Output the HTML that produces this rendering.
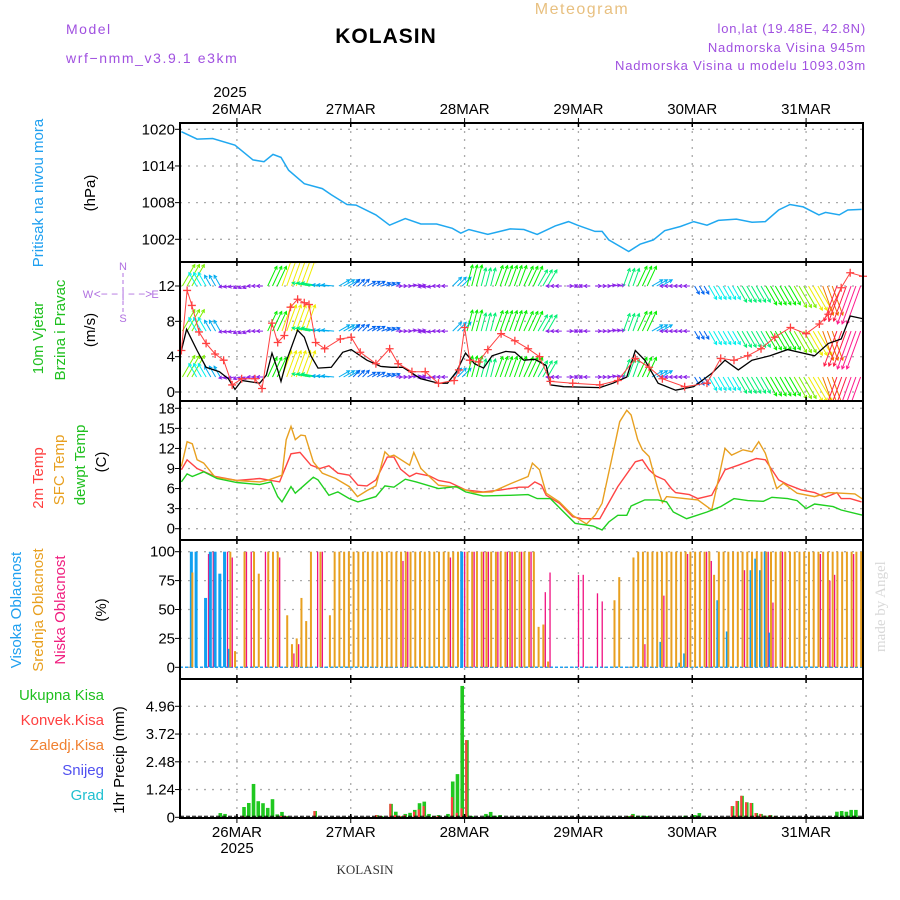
<!DOCTYPE html>
<html><head><meta charset="utf-8"><style>
html,body{margin:0;padding:0;background:#fff;}
svg{display:block;font-family:"Liberation Sans",sans-serif;}
</style></head><body>
<svg id="chart" width="900" height="900" viewBox="0 0 900 900" xmlns="http://www.w3.org/2000/svg">
<rect x="0" y="0" width="900" height="900" fill="#fff"/>
<text x="66" y="34" font-size="14" fill="#a050e0" letter-spacing="1.5">Model</text>
<text x="66" y="63" font-size="14" fill="#a050e0" letter-spacing="1.6">wrf−nmm_v3.9.1  e3km</text>
<text x="386" y="43" font-size="21" font-weight="bold" text-anchor="middle" fill="#000" font-family="Liberation Sans, sans-serif" letter-spacing="1">KOLASIN</text>
<text x="582" y="14" font-size="16" text-anchor="middle" fill="#e8c080" letter-spacing="1.5">Meteogram</text>
<text x="866" y="33" font-size="13" text-anchor="end" fill="#a050e0" letter-spacing="0.8">lon,lat (19.48E, 42.8N)</text>
<text x="866" y="52" font-size="13" text-anchor="end" fill="#a050e0" letter-spacing="0.8">Nadmorska Visina 945m</text>
<text x="866" y="70" font-size="13" text-anchor="end" fill="#a050e0" letter-spacing="0.8">Nadmorska Visina u modelu 1093.03m</text>
<text x="230" y="97" font-size="15" text-anchor="middle" fill="#000">2025</text>
<text x="237" y="853" font-size="15" text-anchor="middle" fill="#000">2025</text>
<text x="365" y="874" font-size="13" text-anchor="middle" fill="#333" font-family="Liberation Serif, serif">KOLASIN</text>
<text transform="translate(885,652) rotate(-90)" font-size="15" fill="#d8d8d8" font-family="Liberation Serif, serif">made by Angel</text>

<text transform="translate(43,193) rotate(-90)" font-size="15" text-anchor="middle" fill="#20a0f0">Pritisak na nivou mora</text>
<text transform="translate(95,193) rotate(-90)" font-size="15" text-anchor="middle" fill="#000">(hPa)</text>
<text transform="translate(43,338) rotate(-90)" font-size="15" text-anchor="middle" fill="#20c020">10m Vjetar</text>
<text transform="translate(65,330) rotate(-90)" font-size="15" text-anchor="middle" fill="#20c020">Brzina i Pravac</text>
<text transform="translate(95,330) rotate(-90)" font-size="15" text-anchor="middle" fill="#000">(m/s)</text>
<g fill="#b070e0" font-size="11" text-anchor="middle">
<text x="123" y="270">N</text><text x="123" y="322">S</text><text x="88" y="298">W</text><text x="155" y="298">E</text>
<text x="123" y="298" font-size="12">&lt;− − | − −&gt;</text>
<line x1="123" y1="273" x2="123" y2="312" stroke="#b070e0" stroke-dasharray="4 3"/>
</g>
<text transform="translate(43,478) rotate(-90)" font-size="15" text-anchor="middle" fill="#ff4040">2m Temp</text>
<text transform="translate(64,470) rotate(-90)" font-size="15" text-anchor="middle" fill="#e8a020">SFC Temp</text>
<text transform="translate(85,465) rotate(-90)" font-size="15" text-anchor="middle" fill="#20c020">dewpt Temp</text>
<text transform="translate(106,462) rotate(-90)" font-size="15" text-anchor="middle" fill="#000">(C)</text>
<text transform="translate(21,610) rotate(-90)" font-size="15" text-anchor="middle" fill="#20a0f0">Visoka Oblacnost</text>
<text transform="translate(43,610) rotate(-90)" font-size="15" text-anchor="middle" fill="#e8a020">Srednja Oblacnost</text>
<text transform="translate(65,610) rotate(-90)" font-size="15" text-anchor="middle" fill="#f02080">Niska Oblacnost</text>
<text transform="translate(106,610) rotate(-90)" font-size="15" text-anchor="middle" fill="#000">(%)</text>
<g font-size="15" text-anchor="end">
<text x="104" y="700" fill="#20c020">Ukupna Kisa</text>
<text x="104" y="725" fill="#ff4040">Konvek.Kisa</text>
<text x="104" y="750" fill="#f08030">Zaledj.Kisa</text>
<text x="104" y="775" fill="#5050f0">Snijeg</text>
<text x="104" y="800" fill="#20c0d0">Grad</text>
</g>
<text transform="translate(124,760) rotate(-90)" font-size="15" text-anchor="middle" fill="#000">1hr Precip (mm)</text>
<g id="plot"></g>
</svg>
<script>
// ---- data ----
const dayLabels = ["26MAR","27MAR","28MAR","29MAR","30MAR","31MAR"];
const dayHours = [12,36,60,84,108,132];
const presTicks = [1002,1008,1014,1020];
const presHours = [0.3,3.6,6.9,11.6,15.4,17.7,19.6,21.3,22.9,26.2,30,31.9,35.2,37.1,41.3,44.2,47.5,50.8,54.1,57.4,59.2,60.9,64.9,69.6,72.5,75.3,79.1,81.9,83.8,87.5,89,90.4,94.6,97,99.8,102.2,105.5,108.3,111.1,113.5,117.3,120.6,123.4,126.2,128.6,131.4,134.7,136.1,139,140.8,143.7];
const presVals = [1019.6,1018.4,1018.5,1017.4,1015.0,1014.7,1015.9,1015.4,1013.3,1011.1,1010.3,1009.3,1007.7,1007.6,1006.0,1004.3,1005.4,1004.5,1004.5,1003.8,1003.0,1003.6,1002.8,1003.7,1003.6,1002.8,1004.2,1004.9,1004.3,1003.3,1003.3,1001.9,1000.0,1001.2,1001.9,1003.4,1004.1,1004.9,1004.3,1005.1,1005.3,1004.8,1004.9,1006.8,1007.7,1007.3,1006.0,1006.4,1006.0,1006.8,1006.9];

const windTicks = [0,4,8,12];
const speedHours = [0.3,1.4,3.6,5.5,8.3,10.2,11.6,13,16.8,18.2,19.4,20.6,21.3,22.5,24.8,26.2,27.6,29.1,31.9,34.3,36.1,39.4,42.3,44.6,47,50.8,54.5,56.4,58.3,60.2,62.1,64,65.8,68.7,70.6,72.5,74.8,77.2,78.1,80.9,88.5,91.3,94.2,96,98,100.8,104.5,108.3,112.1,114.9,117.7,120.6,124.4,128.1,133.8,136.7,139.4,141.3,144];
const speedVals = [4.7,7.1,4.7,2.8,2.3,1.5,0.3,1.3,1.0,1.9,4.4,2.5,1.2,3.6,7.0,6.2,4.1,2.7,2.8,4.5,4.8,3.6,2.9,2.8,2.8,1.5,1.0,1.0,2.3,4.4,3.2,2.7,4.1,4.6,4.5,3.6,3.7,3.0,0.8,0.6,0.5,1.0,1.7,4.7,3.6,1.0,0.2,0.6,2.1,3.6,2.5,3.6,4.1,4.8,4.1,5.5,6.0,8.6,8.3];
const gustHours = [0.3,1.5,2.5,4,5.5,7.4,9.2,11,13,15.8,17.3,19.4,20.6,22,23.3,24.8,26.2,27.2,28.6,30.5,33.8,36.1,38,41.3,44.2,46,48.9,51.7,54.5,57.8,58.8,60,61.1,63,64.9,67.7,70.6,73.4,75.8,78.1,82.8,88.5,92.3,96,98.9,101.7,106.4,111.1,114,116.8,119.7,122.5,125.4,128.7,132,134.8,136.7,139.4,141.3,144];
const gustVals = [4.7,11.5,9.8,6.8,5.5,4.3,3.6,0.8,1.5,1.5,0.4,7.8,5.6,6.4,9.6,10.5,10.1,9.9,5.6,4.9,6.0,6.2,4.5,3.2,4.9,3.2,2.3,2.3,1.0,1.3,2.5,7.3,3.6,3.4,4.8,6.6,5.8,4.9,4.0,1.2,1.0,0.8,1.3,3.8,2.8,1.5,0.6,1.0,3.8,3.6,4.1,4.9,6.2,7.3,6.6,7.7,8.8,11.8,13.5,13.1];
const windSpd = [8,5,4,2,2,2,7,9,9,6,4,4,3,3,3,2,2,2,2,4,7,6,7,7,7,6,2,2,2,2,2,6,7,4,2,2,3,5,5,6,6,7,7,8,9,10,12,13];
const windDir = [30,330,330,260,250,270,25,20,20,280,275,60,45,60,70,90,80,260,270,45,15,15,20,20,25,30,270,90,270,90,80,20,25,60,270,270,150,150,150,150,150,150,150,150,150,160,200,200];
const windRowLevels = [12,6.9,1.7];

const tempTicks = [0,3,6,9,12,15,18];
const t2Hours = [0.3,1.5,3.6,5.5,7.4,12,16.8,21,23.4,25.3,27.6,29.5,31.4,33.3,35.7,37.5,39.4,41.3,43.7,45.1,46.5,48.4,49.8,52.6,54.5,56.9,60.2,63.9,67.7,71.5,73.4,74.8,76.2,77.2,80,82.8,84.7,88.5,92.3,96,97.5,98.9,100.3,102.2,103.6,104.5,107.4,109.2,112.1,114.9,117.7,121.5,123.4,126.2,128.1,131,133.8,136.1,138.5,139.4,141.3,143.7];
const t2Vals = [8.8,10.3,9.0,8.4,7.8,7.2,7.5,7.0,11.2,11.4,9.5,9.0,9.4,8.3,8.0,6.5,6.4,7.3,10.7,10.7,8.9,7.8,8.3,7.9,7.2,6.9,5.8,5.5,5.8,6.2,6.2,7.0,6.5,5.0,3.8,1.8,1.5,1.5,6.3,10.0,10.3,8.8,7.9,7.3,6.0,5.4,5.1,4.5,5.0,8.8,9.5,10.5,10.3,7.3,6.6,5.8,5.4,4.7,5.4,4.5,4.5,4.0];
const sfcHours = [0.3,1.5,2.6,3.6,5,7.4,12,16.8,18.7,21.5,22.4,23.4,24.3,25.5,26.4,28.1,30,32.8,35.7,37.4,39.4,41.3,43.2,44.2,45.1,48.4,49.3,50.8,54.5,58.3,62.1,65.8,69.6,73.4,74.3,75.8,77.2,80,82.8,85.7,87.5,89,91.3,92.7,94.2,95.1,96.5,97.5,98.9,100.8,101.7,102.6,106.4,109.2,112.1,113.5,114.9,116.3,118.7,120.6,122,123.4,125.8,127.2,130.1,133.8,136.7,139.4,142.3,144];
const sfcVals = [9.3,13.0,12.7,10.3,9.8,7.7,7.2,7.0,7.3,8.0,13.3,15.3,13.3,14.0,13.9,10.0,8.3,7.5,6.3,4.8,5.7,6.4,11.5,10.8,11.0,9.5,11.4,9.0,6.5,6.2,5.4,5.5,6.7,7.8,9.8,8.8,5.3,4.0,2.0,0.7,2.0,3.8,11.3,16.0,17.7,17.0,13.3,11.8,10.8,5.8,3.9,4.8,4.5,4.3,2.8,7.3,12.0,11.0,11.8,11.5,13.0,11.3,6.0,6.8,5.3,4.8,5.4,5.3,5.2,4.4];
const dewHours = [0.3,1.5,2.6,5,7.8,12,16.8,19.2,20.6,21.5,23.4,24.3,26.2,28.1,29.1,31.4,33.3,35.7,37.5,41.3,43.2,45.1,47.5,49.8,54.5,58.3,60.2,63.9,69.6,73.4,75.3,78.1,80.9,83.3,87.1,89,90.4,92.3,94.2,95.1,98,100.8,102.6,104,106.8,111.1,114,116.8,119.7,123,124.8,128.1,130.1,132,133.8,137.7,139.4,144];
const dewVals = [7.0,8.2,7.8,8.5,7.5,6.9,6.6,7.0,4.8,4.0,6.3,5.3,6.5,7.7,7.3,5.0,5.5,4.5,4.0,4.8,6.4,6.2,7.4,7.0,6.0,6.3,5.5,4.9,5.0,5.1,4.5,4.5,2.5,0.8,0.4,-0.2,1.0,2.0,2.0,3.4,4.3,4.3,4.0,2.5,1.5,2.5,3.3,4.5,4.2,4.1,4.7,4.5,4.2,3.0,3.7,3.3,2.8,2.0];

const cloudTicks = [0,25,50,75,100];
const cloudHigh = [0,0,100,100,0,60,100,100,81,100,16,0, 0,0,0,0,0,0,0,0,0,0,0,0, 0,0,0,0,0,0,0,0,0,0,0,0, 0,0,0,0,0,0,0,0,0,0,0,0, 0,0,0,0,0,0,0,0,0,0,0,100, 0,0,0,0,0,0,0,0,0,0,0,0, 0,0,0,0,0,0,0,0,0,0,0,0, 0,0,0,0,0,0,0,0,0,0,0,0, 0,0,0,0,0,22,0,0,0,4,12,0, 0,0,0,0,0,58,0,31,0,0,0,0, 84,94,84,100,30,0,0,0,0,0,0,0, 0,0,0,0,0,0,0,0,0,0,0,0];
const cloudMid = [0,0,82,0,0,0,0,0,0,0,100,14, 0,100,0,100,81,0,100,100,100,0,45,20, 25,60,40,100,0,100,0,45,100,100,100,100, 100,100,100,100,100,100,100,100,100,100,100,100, 100,100,100,100,100,100,100,100,100,100,100,0, 100,100,100,100,100,100,100,100,100,100,100,100, 100,100,100,35,37,5,0,0,0,0,0,0, 0,0,0,0,0,0,0,58,78,0,0,95, 100,100,100,100,100,100,100,100,100,100,100,100, 100,100,100,100,80,100,100,100,100,100,100,100, 100,100,100,100,100,100,100,100,100,100,100,100, 100,100,100,100,100,100,100,100,100,100,100,100];
const cloudLow = [0,0,0,0,0,98,100,0,0,100,95,0, 0,100,100,0,0,100,0,0,95,0,0,12, 20,0,0,0,100,100,0,0,0,0,0,0, 0,0,0,0,0,0,0,0,0,0,92,100, 0,0,0,0,0,0,0,0,95,0,0,100, 0,100,0,100,100,0,100,0,100,100,0,100, 0,100,0,0,65,82,0,0,0,0,0,80, 80,0,0,64,57,0,0,0,0,0,0,0, 0,20,0,0,0,62,0,0,0,0,98,0, 0,0,100,92,0,0,0,0,0,0,84,0, 0,0,0,100,56,0,100,0,0,0,0,0, 0,0,98,0,75,80,0,0,0,98,0,100];

const precipTicks = [0,1.24,2.48,3.72,4.96];
const precipHours = [8,9,13,14,15,16,17,18,19,20,21,22,28,41,42,44,45,46,47,48,49,50,51,52,53,54,56,57,58,59,60,61,64,65,66,67,94,95,96,97,98,106,108,109,116,117,118,119,120,121,122,123,124,125,138,139,140,141,142];
const precipTotal = [0.19,0.15,0.46,0.64,1.49,0.72,0.63,0.42,0.81,0.13,0.24,0.06,0.28,0.1,0.06,0.6,0.25,0.06,0.15,0.2,0.33,0.63,0.7,0.15,0.06,0.1,0.15,1.6,1.93,5.87,3.45,0.06,0.15,0.24,0.07,0.1,0.06,0.15,0.07,0.07,0.06,0.07,0.1,0.19,0.5,0.73,0.96,0.67,0.64,0.19,0.15,0.07,0.1,0.03,0.25,0.28,0.25,0.33,0.33];
const precipConv = [0,0,0.04,0,0,0,0,0,0,0.02,0.06,0.03,0.28,0.1,0.06,0.6,0.1,0.06,0.1,0,0.25,0.35,0.5,0,0.03,0.06,0,0.9,0.2,0.4,3.45,0,0,0,0,0,0.03,0.1,0,0,0,0,0,0,0.5,0.73,0.96,0.67,0.64,0.19,0.15,0.07,0.1,0.03,0,0,0,0,0];

// ---- axes ----
const NS = "http://www.w3.org/2000/svg";
const X0 = 180, X1 = 863;
function xh(h){ return X0 + h*(X1-X0)/144; }
function lin(v0,y0,v1,y1){ return v => y0 + (v-v0)*(y1-y0)/(v1-v0); }
const yPres = lin(1020,129.3,1002,239.3);
const yWind = lin(0,392,12,286);
const yTemp = lin(0,528.7,18,408.3);
const yCloud = lin(0,667.3,100,551.7);
const yPrec = lin(0,817.3,4.96,706.3);
const panels = [
  {name:"pressure", top:123, bot:262, ticks:presTicks, y:yPres, fmt:v=>String(v)},
  {name:"wind", top:262, bot:401, ticks:windTicks, y:yWind, fmt:v=>String(v)},
  {name:"temperature", top:401, bot:540, ticks:tempTicks, y:yTemp, fmt:v=>String(v)},
  {name:"cloud", top:540, bot:679, ticks:cloudTicks, y:yCloud, fmt:v=>String(v)},
  {name:"precip", top:679, bot:818, ticks:precipTicks, y:yPrec, fmt:v=>v===0?"0":v.toFixed(2)}
];
const plot = document.getElementById("plot");
function el(tag, attrs, parent){
  const e = document.createElementNS(NS, tag);
  for (const k in attrs) e.setAttribute(k, attrs[k]);
  (parent||plot).appendChild(e);
  return e;
}
function colorForSpeed(s){
  if (s<=2) return "#8a20e8";
  const hue = s<=3?215: s<=5?215-(s-3)*18: s<=7?179-(s-5)*30: s<=10?119-(s-7)*30: Math.max(-30, 29-(s-10)*20);
  return "hsl("+((hue+360)%360)+",100%,"+(s>=12?"55%":"47%")+")";
}

panels.forEach(p=>{
  const g = el("g",{});
  
  
  dayHours.forEach(h=>{
    el("line",{x1:xh(h),x2:xh(h),y1:p.top,y2:p.bot,stroke:"#aaa","stroke-width":1.3,"stroke-dasharray":"2 6"},g);
  });
  p.ticks.forEach(v=>{
    el("line",{x1:X0,x2:X1,y1:p.y(v),y2:p.y(v),stroke:"#aaa","stroke-width":1.3,"stroke-dasharray":"2 6"},g);
  });
});

function pathFrom(hs, vs, yf){ return hs.map((h,i)=>(i?"L":"M")+xh(h).toFixed(1)+","+yf(vs[i]).toFixed(1)).join(""); }
const pl = el("path",{d:pathFrom(presHours,presVals,yPres),fill:"none",stroke:"#20a8f0","stroke-width":1.5});



const defs = el("defs",{});
const cp = el("clipPath",{id:"wclip"},defs);
el("rect",{x:X0,y:262,width:X1-X0,height:139},cp);
const wg = el("g",{"stroke-width":1,fill:"none","clip-path":"url(#wclip)"});


windRowLevels.forEach(lv=>{
  const by = yWind(lv);
  for (let i=0;i<144;i++){
    const k = Math.floor(i/3);
    const s = windSpd[k], a = windDir[k]*Math.PI/180;
    const L = s*3.1, x = xh(i+0.5);
    const ex = x + L*Math.sin(a), ey = by - L*Math.cos(a);
    const c = colorForSpeed(s);
    const ah = 3.5, b1 = a+Math.PI-0.5, b2 = a+Math.PI+0.5;
    const ar = el("path",{d:"M"+x.toFixed(1)+","+by.toFixed(1)+"L"+ex.toFixed(1)+","+ey.toFixed(1)+
      "M"+(ex+ah*Math.sin(b1)).toFixed(1)+","+(ey-ah*Math.cos(b1)).toFixed(1)+"L"+ex.toFixed(1)+","+ey.toFixed(1)+
      "L"+(ex+ah*Math.sin(b2)).toFixed(1)+","+(ey-ah*Math.cos(b2)).toFixed(1), stroke:c},wg);
    
    
  }
});

const sl = el("path",{d:pathFrom(speedHours,speedVals,yWind),fill:"none",stroke:"#000","stroke-width":1.3});


const gl = el("path",{d:pathFrom(gustHours,gustVals,yWind),fill:"none",stroke:"#ff4040","stroke-width":1});


gustHours.forEach((h,i)=>{
  const x = xh(h), y = yWind(gustVals[i]);
  const m = el("path",{d:"M"+(x-4)+","+y+"h8M"+x+","+(y-4)+"v8",stroke:"#ff4040","stroke-width":1.3});
  
  
});

[[t2Hours,t2Vals,"#ff4444","temp-2m-line"],[sfcHours,sfcVals,"#e8a020","temp-sfc-line"],[dewHours,dewVals,"#20d020","temp-dewpoint-line"]].forEach(s=>{
  const p = el("path",{d:pathFrom(s[0],s[1],yTemp),fill:"none",stroke:s[2],"stroke-width":1.4});
  
  
});

const cg = el("g",{});


el("line",{x1:X0,x2:X1,y1:yCloud(0),y2:yCloud(0),stroke:"#20a0f0","stroke-width":1.5,"stroke-dasharray":"3 2"},cg);
for (let i=0;i<144;i++){
  const x = xh(i+0.5);
  if (cloudHigh[i]>0){ const r=el("rect",{x:x-2,y:yCloud(cloudHigh[i]),width:3,height:yCloud(0)-yCloud(cloudHigh[i]),fill:"#10a0f0"},cg);
      }
  if (cloudMid[i]>0){ const r=el("rect",{x:x-0.5,y:yCloud(cloudMid[i]),width:2,height:yCloud(0)-yCloud(cloudMid[i]),fill:"#e8a020"},cg);
      }
  if (cloudLow[i]>0){ const r=el("rect",{x:x+1.8,y:yCloud(cloudLow[i]),width:1.3,height:yCloud(0)-yCloud(cloudLow[i]),fill:"#f01080"},cg);
      }
}

const pg = el("g",{});


precipHours.forEach((h,i)=>{
  const x = xh(h+0.5);
  const r = el("rect",{x:x-1.8,y:yPrec(precipTotal[i]),width:3.6,height:yPrec(0)-yPrec(precipTotal[i]),fill:"#20c820"},pg);
  
  
  if (precipConv[i]>0){
    const c = el("rect",{x:x-1.8,y:yPrec(precipConv[i]),width:2.2,height:yPrec(0)-yPrec(precipConv[i]),fill:"#ff4040"},pg);
    
    
  }
});
el("line",{x1:X0,x2:X1,y1:yPrec(0)-1,y2:yPrec(0)-1,stroke:"#000","stroke-width":1,"stroke-dasharray":"4 2"},pg);

panels.forEach(p=>{
  const f = el("rect",{x:X0,y:p.top,width:X1-X0,height:p.bot-p.top,fill:"none",stroke:"#000","stroke-width":2});
  
  
  p.ticks.forEach(v=>{
    el("line",{x1:X0-5,x2:X0,y1:p.y(v),y2:p.y(v),stroke:"#000","stroke-width":1});
    const t = el("text",{x:X0-5,y:p.y(v)+5,"font-size":15,"text-anchor":"end",fill:"#000"});
    t.textContent = p.fmt(v);
    
    
  });
  dayHours.forEach(h=>{
    el("line",{x1:xh(h),x2:xh(h),y1:p.top,y2:p.top+4,stroke:"#000","stroke-width":1.5});
    el("line",{x1:xh(h),x2:xh(h),y1:p.bot-4,y2:p.bot,stroke:"#000","stroke-width":1.5});
  });
});
dayLabels.forEach((d,i)=>{
  const t = el("text",{x:xh(dayHours[i]),y:114,"font-size":15,"text-anchor":"middle",fill:"#000"});
  t.textContent = d;
  
  
  el("line",{x1:xh(dayHours[i]),x2:xh(dayHours[i]),y1:118,y2:123,stroke:"#000"});
  const b = el("text",{x:xh(dayHours[i]),y:837,"font-size":15,"text-anchor":"middle",fill:"#000"});
  b.textContent = d;
  
  
  el("line",{x1:xh(dayHours[i]),x2:xh(dayHours[i]),y1:818,y2:823,stroke:"#000"});
});
</script>
</body></html>
